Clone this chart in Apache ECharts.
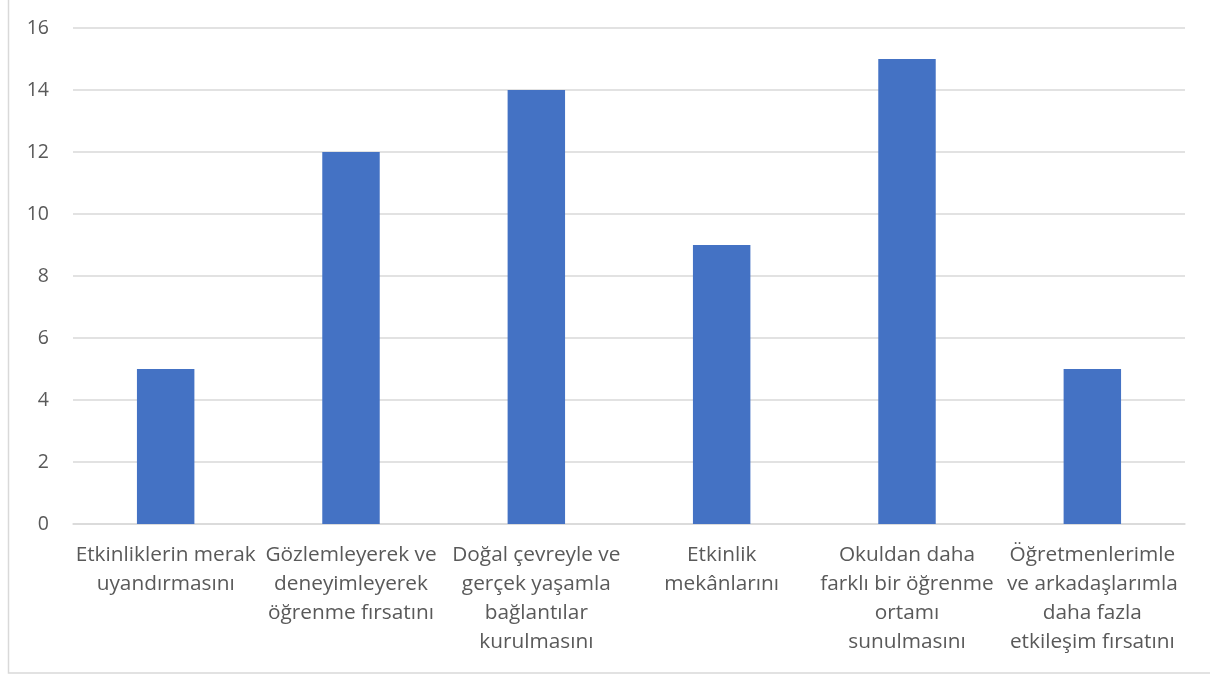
<!DOCTYPE html>
<html>
<head>
<meta charset="utf-8">
<script src="https://cdn.jsdelivr.net/npm/echarts@6/dist/echarts.min.js"></script>
<style>
  html, body { margin: 0; padding: 0; background: #ffffff; }
  #chart { width: 1210px; height: 675px; }
</style>
</head>
<body>
<div id="chart"></div>
<script>
// Category labels (line breaks as they wrap under each bar)
const categories = [
  'Etkinliklerin merak\nuyandırmasını',
  'Gözlemleyerek ve\ndeneyimleyerek\nöğrenme fırsatını',
  'Doğal çevreyle ve\ngerçek yaşamla\nbağlantılar\nkurulmasını',
  'Etkinlik\nmekânlarını',
  'Okuldan daha\nfarklı bir öğrenme\nortamı\nsunulmasını',
  'Öğretmenlerimle\nve arkadaşlarımla\ndaha fazla\netkileşim fırsatını'
];
const values = [5, 12, 14, 9, 15, 5];
const yTicks = { min: 0, max: 16, interval: 2 };

const chart = echarts.init(document.getElementById('chart'), null, { renderer: 'canvas' });
const textColor = '#595959';
const font = '"Open Sans", Lato, sans-serif';

chart.setOption({
  animation: false,
  backgroundColor: '#ffffff',
  graphic: [{
    type: 'rect',
    silent: true,
    shape: { x: 8.5, y: -10, width: 1300, height: 683 },
    style: { fill: 'none', stroke: '#d9d9d9', lineWidth: 1.5 }
  }],
  grid: { left: 73, right: 25, top: 28, bottom: 151, containLabel: false },
  xAxis: {
    type: 'category',
    data: categories,
    axisLine: { show: true, lineStyle: { color: '#d9d9d9', width: 1.5 } },
    axisTick: { show: false },
    axisLabel: {
      interval: 0,
      color: textColor,
      fontFamily: font,
      fontSize: 20.8,
      lineHeight: 29,
      margin: 17,
      align: 'center'
    }
  },
  yAxis: {
    type: 'value',
    min: yTicks.min,
    max: yTicks.max,
    interval: yTicks.interval,
    axisLine: { show: false },
    axisTick: { show: false },
    splitLine: { lineStyle: { color: '#d9d9d9', width: 1.5 } },
    axisLabel: {
      color: textColor,
      fontFamily: font,
      fontSize: 19.5,
      margin: 24
    }
  },
  series: [{
    type: 'bar',
    data: values,
    barWidth: '31%',
    itemStyle: { color: '#4472C4' }
  }]
});
</script>
</body>
</html>
